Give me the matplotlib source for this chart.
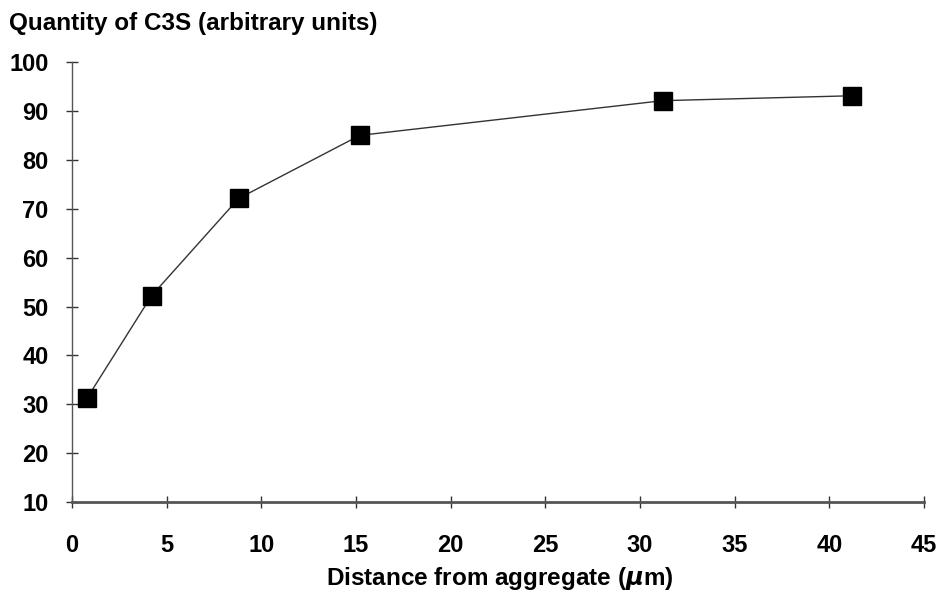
import matplotlib.pyplot as plt

# data
distance = [0.8, 4.2, 8.8, 15.2, 31.2, 41.2]
c3s = [31.3, 52.2, 72.1, 85.0, 92.1, 93.1]
x_ticks = [0, 5, 10, 15, 20, 25, 30, 35, 40, 45]
y_ticks = [10, 20, 30, 40, 50, 60, 70, 80, 90, 100]


def draw():
    plt.rcParams['font.family'] = ['Liberation Sans', 'DejaVu Sans']
    plt.rcParams['font.weight'] = 'bold'

    fig = plt.figure(figsize=(9.41, 6.08), dpi=100)
    ax = fig.add_axes([0.0765, 0.174, 0.9055, 0.724])

    ax.plot(distance, c3s, color='#333333', lw=1.0, marker='s', markersize=13,
            markerfacecolor='black', markeredgecolor='black', clip_on=False)

    ax.set_xlim(0, 45)
    ax.set_ylim(10, 100)
    ax.set_xticks(x_ticks)
    ax.set_yticks(y_ticks)
    ax.spines['top'].set_visible(False)
    ax.spines['right'].set_visible(False)
    ax.spines['bottom'].set_color('#555555')
    ax.spines['bottom'].set_linewidth(2.0)
    ax.spines['left'].set_color('#555555')
    ax.spines['left'].set_linewidth(1.0)
    ax.tick_params(direction='inout', length=8, width=1, color='#333333',
                   labelsize=17)
    ax.tick_params(axis='x', pad=19)
    ax.tick_params(axis='y', pad=13)
    for lab in ax.get_xticklabels() + ax.get_yticklabels():
        lab.set_fontweight('bold')

    fig.text(0.010, 0.962, 'Quantity of C3S (arbitrary units)', fontsize=17.5,
             fontweight='bold', ha='left', va='center')
    fig.text(0.531, 0.049, r'Distance from aggregate ($\mu$m)', fontsize=17.5,
             fontweight='bold', ha='center', va='center')

    fig.savefig('out.png', dpi=100)


if __name__ == '__main__':
    draw()
